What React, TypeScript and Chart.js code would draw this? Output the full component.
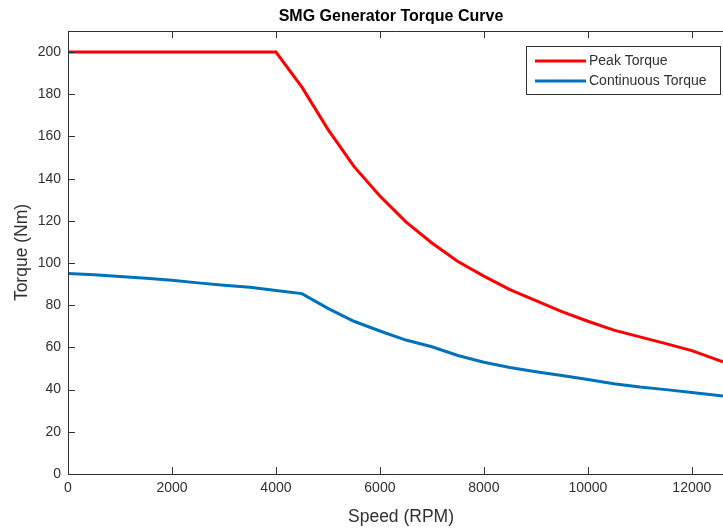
import React, { useEffect, useRef } from "react";
import { Chart, registerables } from "chart.js";

Chart.register(...registerables);

const chartTitle = "SMG Generator Torque Curve";
const xAxisLabel = "Speed (RPM)";
const yAxisLabel = "Torque (Nm)";

const speedRpm = [0, 500, 1000, 1500, 2000, 2500, 3000, 3500, 4000, 4500, 5000, 5500, 6000, 6500, 7000, 7500, 8000, 8500, 9000, 9500, 10000, 10500, 11000, 11500, 12000, 12600];
const peakTorque = [200, 200, 200, 200, 200, 200, 200, 200, 200, 183.4, 163.4, 145.8, 131.8, 119.5, 109.5, 100.7, 93.8, 87.4, 82.2, 77.0, 72.4, 68.2, 65.0, 61.8, 58.5, 53.2];
const continuousTorque = [95, 94.5, 93.6, 92.8, 91.8, 90.6, 89.5, 88.5, 87.0, 85.5, 78.5, 72.4, 67.8, 63.5, 60.3, 56.2, 53.0, 50.5, 48.5, 46.7, 44.8, 42.8, 41.2, 40.0, 38.6, 37.0];

const seriesLabels = ["Peak Torque", "Continuous Torque"];
const seriesColors = ["#ff0000", "#0072bd"];

const xTicks = [0, 2000, 4000, 6000, 8000, 10000, 12000];
const yTicks = [0, 20, 40, 60, 80, 100, 120, 140, 160, 180, 200];
const xRange = [0, 12600];
const yRange = [0, 210];

const FONT = "'Liberation Sans', Arial, Helvetica, sans-serif";
const TEXT = "#303030";
const AXIS = "#303030";

const matlabAxes = {
  id: "matlabAxes",
  afterDraw(chart: any) {
    const ctx = chart.ctx as CanvasRenderingContext2D;
    const xs = chart.scales.x;
    const ys = chart.scales.y;
    const a = chart.chartArea;
    ctx.save();
    // axis lines
    ctx.strokeStyle = AXIS;
    ctx.lineWidth = 1;
    ctx.beginPath();
    ctx.moveTo(a.left + 0.5, a.top + 0.5);
    ctx.lineTo(a.left + 0.5, a.bottom + 0.5);
    ctx.lineTo(a.right + 5, a.bottom + 0.5);
    ctx.moveTo(a.left + 0.5, a.top + 0.5);
    ctx.lineTo(a.right + 5, a.top + 0.5);
    ctx.stroke();
    // ticks
    const tl = 7;
    ctx.beginPath();
    xTicks.forEach((v) => {
      const px = Math.round(xs.getPixelForValue(v)) + 0.5;
      ctx.moveTo(px, a.bottom);
      ctx.lineTo(px, a.bottom - tl);
      ctx.moveTo(px, a.top);
      ctx.lineTo(px, a.top + tl);
    });
    yTicks.forEach((v) => {
      const py = Math.round(ys.getPixelForValue(v)) + 0.5;
      ctx.moveTo(a.left, py);
      ctx.lineTo(a.left + tl, py);
    });
    ctx.stroke();
    // tick labels
    ctx.fillStyle = TEXT;
    ctx.font = `14px ${FONT}`;
    ctx.textAlign = "center";
    ctx.textBaseline = "top";
    xTicks.forEach((v) => {
      ctx.fillText(String(v), xs.getPixelForValue(v), a.bottom + 7);
    });
    ctx.textAlign = "right";
    ctx.textBaseline = "middle";
    yTicks.forEach((v) => {
      ctx.fillText(String(v), a.left - 7, ys.getPixelForValue(v));
    });
    // axis labels
    ctx.font = `17.5px ${FONT}`;
    ctx.textAlign = "center";
    ctx.textBaseline = "middle";
    ctx.fillText(xAxisLabel, 401, 517);
    ctx.save();
    ctx.translate(22, (a.top + a.bottom) / 2);
    ctx.rotate(-Math.PI / 2);
    ctx.fillText(yAxisLabel, 0, 0);
    ctx.restore();
    // title
    ctx.font = `bold 16px ${FONT}`;
    ctx.fillStyle = "#000";
    ctx.fillText(chartTitle, 391, 17);
    // legend
    const lx = 526.5, ly = 46.5, lw = 194, lh = 48;
    ctx.fillStyle = "#fff";
    ctx.fillRect(lx, ly, lw, lh);
    ctx.strokeStyle = AXIS;
    ctx.lineWidth = 1;
    ctx.strokeRect(lx, ly, lw, lh);
    chart.data.datasets.forEach((ds: any, i: number) => {
      const y = 61 + i * 20;
      ctx.strokeStyle = ds.borderColor;
      ctx.lineWidth = 3;
      ctx.beginPath();
      ctx.moveTo(535, y);
      ctx.lineTo(586, y);
      ctx.stroke();
      ctx.fillStyle = TEXT;
      ctx.font = `14px ${FONT}`;
      ctx.textAlign = "left";
      ctx.textBaseline = "middle";
      ctx.fillText(ds.label, 589, y);
    });
    ctx.restore();
  },
};

export default function App() {
  const ref = useRef<HTMLCanvasElement | null>(null);
  useEffect(() => {
    if (!ref.current) return;
    const mk = (ys: number[]) => speedRpm.map((x, i) => ({ x, y: ys[i] }));
    const chart = new Chart(ref.current, {
      type: "line",
      data: {
        datasets: [
          {
            label: seriesLabels[0],
            data: mk(peakTorque),
            borderColor: seriesColors[0],
            backgroundColor: seriesColors[0],
            borderWidth: 3,
            pointRadius: 0,
            tension: 0,
            fill: false,
          },
          {
            label: seriesLabels[1],
            data: mk(continuousTorque),
            borderColor: seriesColors[1],
            backgroundColor: seriesColors[1],
            borderWidth: 3,
            pointRadius: 0,
            tension: 0,
            fill: false,
          },
        ],
      },
      options: {
        responsive: false,
        animation: false,
        layout: { padding: { left: 68, top: 31, right: 0, bottom: 55 } },
        plugins: {
          legend: { display: false },
          title: { display: false },
          tooltip: { enabled: false },
        },
        scales: {
          x: { type: "linear", display: false, min: xRange[0], max: xRange[1] },
          y: { type: "linear", display: false, min: yRange[0], max: yRange[1] },
        },
      },
      plugins: [matlabAxes],
    });
    return () => chart.destroy();
  }, []);
  return (
    <div style={{ position: "fixed", left: 0, top: 0, width: 723, height: 529, background: "#fff" }}>
      <canvas ref={ref} width={723} height={529} style={{ display: "block" }} />
    </div>
  );
}
